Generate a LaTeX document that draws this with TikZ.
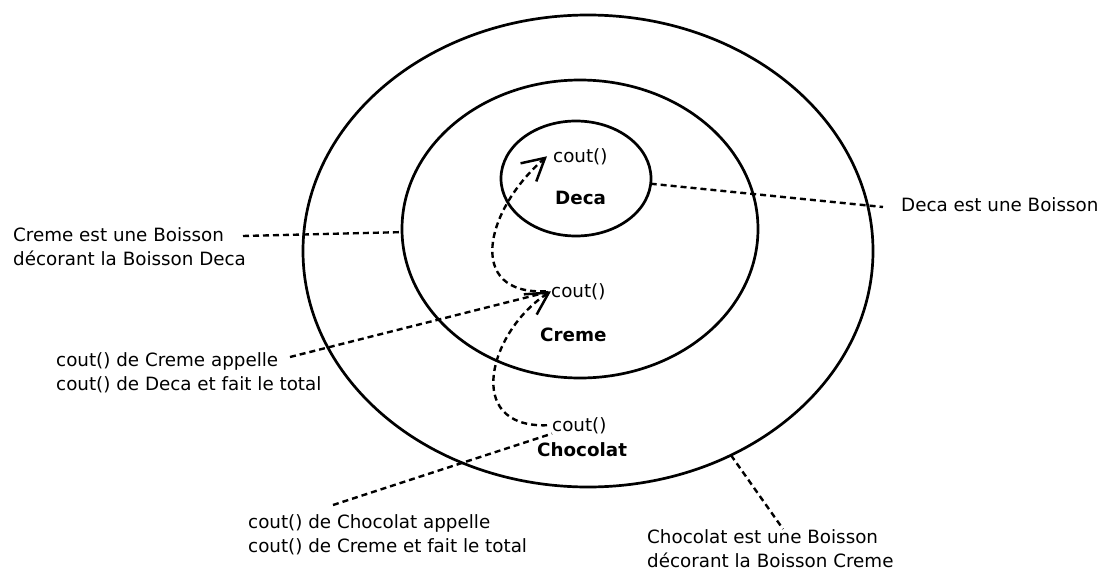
\documentclass[tikz,border=0pt]{standalone}
\usepackage{fontspec}
\setmainfont{DejaVu Sans}
\usetikzlibrary{shapes.geometric,arrows.meta}
\begin{document}
\begin{tikzpicture}[x=1pt,y=-1pt,
  ring/.style={ellipse, draw, line width=2.7pt, inner sep=0pt, outer sep=0pt},
  txt/.style={font=\fontsize{18.3}{24}\selectfont, inner sep=0pt, align=left},
  cls/.style={font=\fontsize{18.3}{24}\selectfont\bfseries, inner sep=0pt},
  meth/.style={font=\fontsize{18.3}{24}\selectfont, inner sep=0pt},
  leader/.style={line width=2.4pt, dash pattern=on 6pt off 4pt},
  call/.style={leader, -{Straight Barb[length=22pt,width=24pt,line width=2.5pt]}}
]
\useasboundingbox (0,0) rectangle (1104,570);

% the three nested beverages
\node[ring, minimum width=570pt, minimum height=472pt] (outer) at (588,251) {};
\node[ring, minimum width=356pt, minimum height=298pt] (middle) at (580,229) {};
\node[ring, minimum width=150pt, minimum height=115pt] (inner) at (576,178.5) {};

% methods and class names
\node[meth, anchor=base west] (decaCout) at (553,162) {cout()};
\node[cls, anchor=base west] (decaName) at (555,204) {Deca};
\node[meth, anchor=base west] (cremeCout) at (551,297) {cout()};
\node[cls, anchor=base west] (cremeName) at (540,341) {Creme};
\node[meth, anchor=base west] (chocoCout) at (552,431) {cout()};
\node[cls, anchor=base west] (chocoName) at (537,456) {Chocolat};

% annotations (base = baseline of the last line)
\node[txt, anchor=base west] (tCreme) at (13,265) {Creme est une Boisson\\décorant la Boisson Deca};
\node[txt, anchor=base west] (tDeca) at (901,211) {Deca est une Boisson};
\node[txt, anchor=base west] (tCallCreme) at (56,390) {cout() de Creme appelle\\cout() de Deca et fait le total};
\node[txt, anchor=base west] (tCallChoco) at (248,552) {cout() de Chocolat appelle\\cout() de Creme et fait le total};
\node[txt, anchor=base west] (tChoco) at (647,567) {Chocolat est une Boisson\\décorant la Boisson Creme};

% free ends of the leader lines
\coordinate (eCreme) at (243,236);
\coordinate (eDeca) at (883,207);
\coordinate (eCallCreme) at (290,357);
\coordinate (eCallChoco) at (333,505);
\coordinate (eChoco) at (783,529);

% leader lines
\draw[leader] (eCreme) -- (middle.181);
\draw[leader] (inner.-4) -- (eDeca);
\draw[leader] (eCallCreme) -- (cremeCout.west);
\draw[leader] (eCallChoco) -- (chocoCout.south west);
\draw[leader] (outer.-55) -- (eChoco);

% delegation of cout()
\draw[call] ([xshift=-5pt]cremeCout.west) .. controls (465,295) and (485,210) .. ([xshift=-6pt]decaCout.west);
\draw[call] ([xshift=-5pt]chocoCout.west) .. controls (462,428) and (490,330) .. (cremeCout.west);
\end{tikzpicture}
\end{document}
